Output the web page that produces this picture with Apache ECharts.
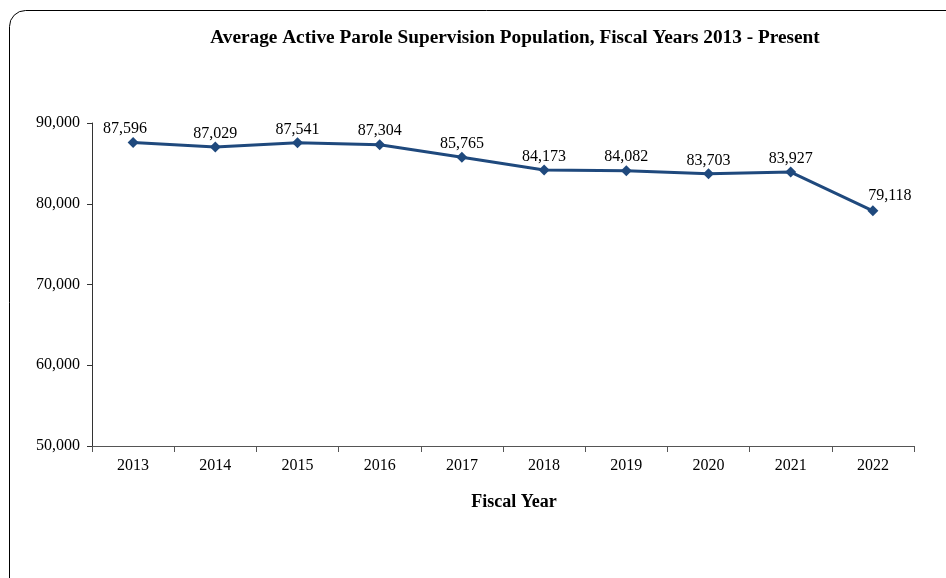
<!DOCTYPE html>
<html><head><meta charset="utf-8">
<script src="https://cdn.jsdelivr.net/npm/echarts@6/dist/echarts.min.js"></script>
<style>html,body{margin:0;padding:0;background:#fff}#c{width:946px;height:578px}</style>
</head><body><div id="c"></div>
<script>
const years = ['2013','2014','2015','2016','2017','2018','2019','2020','2021','2022'];
const population = [87596, 87029, 87541, 87304, 85765, 84173, 84082, 83703, 83927, 79118];
const titleText = 'Average Active Parole Supervision Population, Fiscal Years 2013 - Present';
const xAxisTitle = 'Fiscal Year';

const chart = echarts.init(document.getElementById('c'), null, {renderer:'canvas'});
const serif = '"Liberation Serif", "Times New Roman", serif';
const lastIdx = population.length - 1;
const seriesData = population.map((v, i) => {
  if (i === 0) return {value: v, label: {offset: [-8, 0]}};
  if (i === lastIdx) return {value: v, label: {offset: [17, -2]}};
  return v;
});
chart.setOption({
  animation: false,
  backgroundColor: '#fff',
  graphic: [{
    type: 'rect', x: 9.5, y: 10.5, silent: true,
    shape: {x: 0, y: 0, width: 960, height: 600, r: 16},
    style: {fill: 'none', stroke: '#000', lineWidth: 1}
  }, {
    type: 'text', x: 515, y: 38, silent: true,
    style: {text: titleText, font: 'bold 19.3px ' + serif, fill: '#000', align: 'center', verticalAlign: 'middle'}
  }, {
    type: 'text', x: 514, y: 502, silent: true,
    style: {text: xAxisTitle, font: 'bold 18px ' + serif, fill: '#000', align: 'center', verticalAlign: 'middle'}
  }],
  grid: {left: 92, right: 32, top: 123, bottom: 132},
  xAxis: {
    type: 'category', data: years, boundaryGap: true,
    axisLine: {lineStyle: {color: '#555', width: 1}},
    axisTick: {show: true, length: 6, inside: false, lineStyle: {color: '#555'}},
    axisLabel: {fontFamily: serif, fontSize: 16, color: '#000', margin: 12},
    splitLine: {show: false}
  },
  yAxis: {
    type: 'value', min: 50000, max: 90000, interval: 10000,
    axisLine: {show: true, lineStyle: {color: '#333', width: 1}},
    axisTick: {show: true, length: 5, lineStyle: {color: '#333'}},
    axisLabel: {fontFamily: serif, fontSize: 16, color: '#000', margin: 12,
      formatter: v => v.toLocaleString('en-US')},
    splitLine: {show: false}
  },
  series: [{
    type: 'line', data: seriesData,
    symbol: 'diamond', symbolSize: 11,
    lineStyle: {color: '#1F497D', width: 3},
    itemStyle: {color: '#1F497D'},
    label: {show: true, position: 'top', distance: 0,
      fontFamily: serif, fontSize: 16, color: '#000',
      formatter: p => p.value.toLocaleString('en-US')}
  }]
});
</script></body></html>
